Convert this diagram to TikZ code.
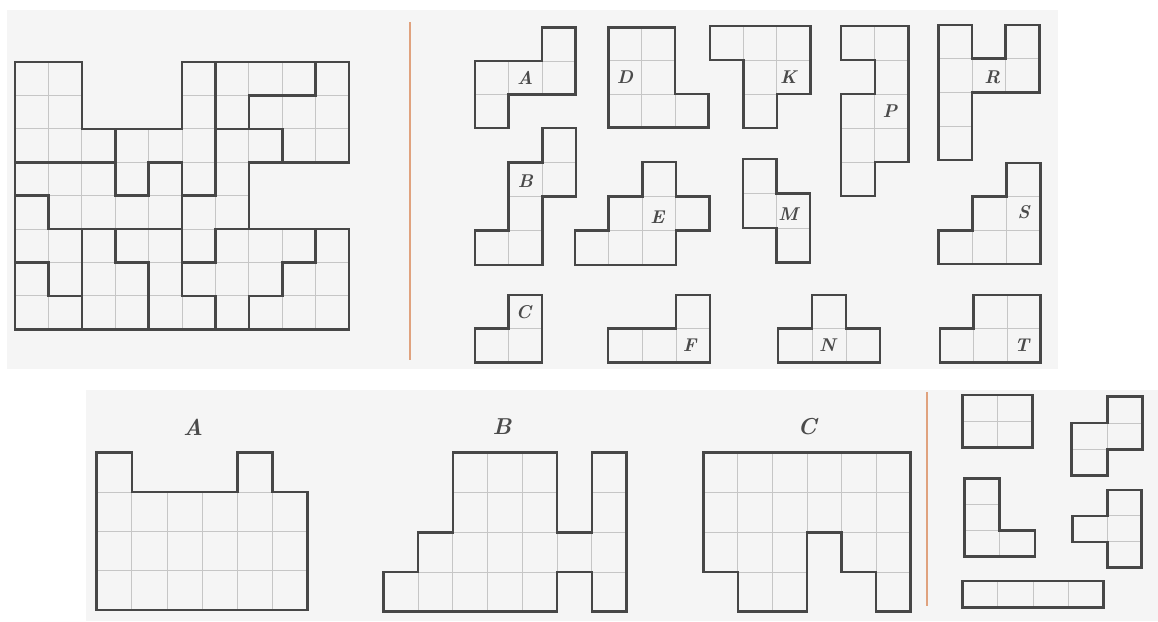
\documentclass[tikz,border=0pt]{standalone}
\usepackage{xcolor}
\definecolor{panel}{HTML}{F5F5F5}
\definecolor{thickc}{HTML}{474747}
\definecolor{thinc}{HTML}{C6C6C6}
\definecolor{sepc}{HTML}{E0A27E}
\definecolor{labc}{HTML}{4A4A4A}
\tikzset{
  gridline/.style={draw=thinc, line width=0.9pt},
  outline/.style={draw=thickc, line width=2.6pt, line join=miter, line cap=rect},
  lab/.style={text=labc, font=\fontsize{18.5}{18.5}\selectfont\bfseries\itshape, inner sep=0pt},
  biglab/.style={text=labc, font=\fontsize{23}{23}\selectfont\bfseries\itshape, inner sep=0pt},
  sepline/.style={draw=sepc, line width=1.8pt},
}
% origin x, origin y, cell w, cell h, cells, outline path, extra
\newcommand\polyo[7]{%
  \begin{scope}[shift={(#1pt,-#2pt)},x=#3pt,y=-#4pt]
    \foreach \cc/\rr in {#5} {\draw[gridline] (\cc,\rr) rectangle ++(1,1);}
    \draw[outline] #6;
    #7
  \end{scope}}
\begin{document}
\begin{tikzpicture}[x=1pt,y=-1pt]
\useasboundingbox (0,0) rectangle (1158,621);
\fill[white] (0,0) rectangle (1158,621);
\fill[panel] (7,10) rectangle (1058,369);
\fill[panel] (86,390) rectangle (1158,621);

% main grid
\begin{scope}[shift={(15pt,-62pt)},x=33.4pt,y=-33.4pt]
  \begin{scope}
    \clip (0,0) -- (2,0) -- (2,2) -- (5,2) -- (5,0) -- (10,0) -- (10,3) -- (7,3) -- (7,5) -- (10,5) -- (10,8) -- (0,8) -- cycle;
    \foreach \i in {1,...,9} {\draw[gridline] (\i,0) -- (\i,8);}
    \foreach \j in {1,...,7} {\draw[gridline] (0,\j) -- (10,\j);}
  \end{scope}
  \draw[outline] (0,0) -- (2,0) -- (2,2) -- (5,2) -- (5,0) -- (10,0) -- (10,3) -- (7,3) -- (7,5) -- (10,5) -- (10,8) -- (0,8) -- cycle;
  \draw[outline] (0,3) -- (3,3);
  \draw[outline] (3,2) -- (3,4) -- (4,4) -- (4,3) -- (5,3) -- (5,7) -- (6,7) -- (6,8);
  \draw[outline] (6,0) -- (6,4) -- (5,4);
  \draw[outline] (9,0) -- (9,1) -- (7,1) -- (7,2);
  \draw[outline] (6,2) -- (8,2) -- (8,3);
  \draw[outline] (0,4) -- (1,4) -- (1,5) -- (5,5);
  \draw[outline] (6,5) -- (7,5);
  \draw[outline] (6,5) -- (6,6) -- (5,6);
  \draw[outline] (2,5) -- (2,8);
  \draw[outline] (0,6) -- (1,6) -- (1,7) -- (2,7);
  \draw[outline] (3,5) -- (3,6) -- (4,6) -- (4,8);
  \draw[outline] (9,5) -- (9,6) -- (8,6) -- (8,7) -- (7,7) -- (7,8);
\end{scope}

% separators
\draw[sepline] (410,22) -- (410,360);
\draw[sepline] (927,392) -- (927,606);

% top-right pieces
\polyo{475}{27.5}{33.5}{33.5}{2/0,0/1,1/1,2/1,0/2}
  {(2,0) -- (3,0) -- (3,2) -- (1,2) -- (1,3) -- (0,3) -- (0,1) -- (2,1) -- cycle}
  {\node[lab] (lA) at (1.5,1.5) {A};}
\polyo{608.3}{27.3}{33.4}{33.4}{0/0,1/0,0/1,1/1,0/2,1/2,2/2}
  {(0,0) -- (2,0) -- (2,2) -- (3,2) -- (3,3) -- (0,3) -- cycle}
  {\node[lab] (lD) at (0.5,1.5) {D};}
\polyo{710}{26}{33.4}{34}{0/0,1/0,2/0,1/1,2/1,1/2}
  {(0,0) -- (3,0) -- (3,2) -- (2,2) -- (2,3) -- (1,3) -- (1,1) -- (0,1) -- cycle}
  {\node[lab] (lK) at (2.35,1.5) {K};}
\polyo{841}{26}{33.8}{34}{0/0,1/0,1/1,0/2,1/2,0/3,1/3,0/4}
  {(0,0) -- (2,0) -- (2,4) -- (1,4) -- (1,5) -- (0,5) -- (0,2) -- (1,2) -- (1,1) -- (0,1) -- cycle}
  {\node[lab] (lP) at (1.45,2.5) {P};}
\polyo{938.5}{25}{33.6}{33.75}{0/0,2/0,0/1,1/1,2/1,0/2,0/3}
  {(0,0) -- (1,0) -- (1,1) -- (2,1) -- (2,0) -- (3,0) -- (3,2) -- (1,2) -- (1,4) -- (0,4) -- cycle}
  {\node[lab] (lR) at (1.6,1.55) {R};}
\polyo{475}{128}{33.6}{34.2}{2/0,1/1,2/1,1/2,0/3,1/3}
  {(2,0) -- (3,0) -- (3,2) -- (2,2) -- (2,4) -- (0,4) -- (0,3) -- (1,3) -- (1,1) -- (2,1) -- cycle}
  {\node[lab] (lB) at (1.5,1.55) {B};}
\polyo{575}{162}{33.6}{34.3}{2/0,1/1,2/1,3/1,0/2,1/2,2/2}
  {(2,0) -- (3,0) -- (3,1) -- (4,1) -- (4,2) -- (3,2) -- (3,3) -- (0,3) -- (0,2) -- (1,2) -- (1,1) -- (2,1) -- cycle}
  {\node[lab] (lE) at (2.45,1.6) {E};}
\polyo{743}{159}{33.5}{34.5}{0/0,0/1,1/1,1/2}
  {(0,0) -- (1,0) -- (1,1) -- (2,1) -- (2,3) -- (1,3) -- (1,2) -- (0,2) -- cycle}
  {\node[lab] (lM) at (1.35,1.6) {M};}
\polyo{938.5}{163}{34}{33.6}{2/0,1/1,2/1,0/2,1/2,2/2}
  {(2,0) -- (3,0) -- (3,3) -- (0,3) -- (0,2) -- (1,2) -- (1,1) -- (2,1) -- cycle}
  {\node[lab] (lS) at (2.5,1.45) {S};}
\polyo{475}{295}{33.5}{33.7}{1/0,0/1,1/1}
  {(1,0) -- (2,0) -- (2,2) -- (0,2) -- (0,1) -- (1,1) -- cycle}
  {\node[lab] (lC) at (1.45,0.5) {C};}
\polyo{608}{295}{34}{33.7}{2/0,0/1,1/1,2/1}
  {(2,0) -- (3,0) -- (3,2) -- (0,2) -- (0,1) -- (2,1) -- cycle}
  {\node[lab] (lF) at (2.4,1.5) {F};}
\polyo{778}{295}{34}{33.7}{1/0,0/1,1/1,2/1}
  {(1,0) -- (2,0) -- (2,1) -- (3,1) -- (3,2) -- (0,2) -- (0,1) -- (1,1) -- cycle}
  {\node[lab] (lN) at (1.45,1.5) {N};}
\polyo{940}{295}{33.5}{33.7}{1/0,2/0,0/1,1/1,2/1}
  {(1,0) -- (3,0) -- (3,2) -- (0,2) -- (0,1) -- (1,1) -- cycle}
  {\node[lab] (lT) at (2.45,1.5) {T};}

% bottom figures
\polyo{96.7}{452.7}{35.15}{39.3}{0/0,4/0,0/1,1/1,2/1,3/1,4/1,5/1,0/2,1/2,2/2,3/2,4/2,5/2,0/3,1/3,2/3,3/3,4/3,5/3}
  {(0,0) -- (1,0) -- (1,1) -- (4,1) -- (4,0) -- (5,0) -- (5,1) -- (6,1) -- (6,4) -- (0,4) -- cycle}
  {}
\polyo{383.3}{452.7}{34.76}{39.75}{2/0,3/0,4/0,6/0,2/1,3/1,4/1,6/1,1/2,2/2,3/2,4/2,5/2,6/2,0/3,1/3,2/3,3/3,4/3,6/3}
  {(2,0) -- (5,0) -- (5,2) -- (6,2) -- (6,0) -- (7,0) -- (7,4) -- (6,4) -- (6,3) -- (5,3) -- (5,4) -- (0,4) -- (0,3) -- (1,3) -- (1,2) -- (2,2) -- cycle}
  {}
\polyo{703.3}{452.7}{34.57}{39.75}{0/0,1/0,2/0,3/0,4/0,5/0,0/1,1/1,2/1,3/1,4/1,5/1,0/2,1/2,2/2,4/2,5/2,1/3,2/3,5/3}
  {(0,0) -- (6,0) -- (6,4) -- (5,4) -- (5,3) -- (4,3) -- (4,2) -- (3,2) -- (3,4) -- (1,4) -- (1,3) -- (0,3) -- cycle}
  {}
\node[biglab] (tA) at (193,427) {A};
\node[biglab] (tB) at (502,427) {B};
\node[biglab] (tC) at (807,427) {C};

% small pieces bottom right
\polyo{962.7}{395}{35}{26.3}{0/0,1/0,0/1,1/1}
  {(0,0) -- (2,0) -- (2,2) -- (0,2) -- cycle}{}
\polyo{1071.7}{396.7}{35.5}{26.3}{1/0,0/1,1/1,0/2}
  {(1,0) -- (2,0) -- (2,2) -- (1,2) -- (1,3) -- (0,3) -- (0,1) -- (1,1) -- cycle}{}
\polyo{964.3}{478.3}{35.3}{26.1}{0/0,0/1,0/2,1/2}
  {(0,0) -- (1,0) -- (1,2) -- (2,2) -- (2,3) -- (0,3) -- cycle}{}
\polyo{1072.7}{490}{34.5}{25.9}{1/0,0/1,1/1,1/2}
  {(1,0) -- (2,0) -- (2,3) -- (1,3) -- (1,2) -- (0,2) -- (0,1) -- (1,1) -- cycle}{}
\polyo{962.7}{581}{35.15}{26.7}{0/0,1/0,2/0,3/0}
  {(0,0) -- (4,0) -- (4,1) -- (0,1) -- cycle}{}
\end{tikzpicture}
\end{document}
